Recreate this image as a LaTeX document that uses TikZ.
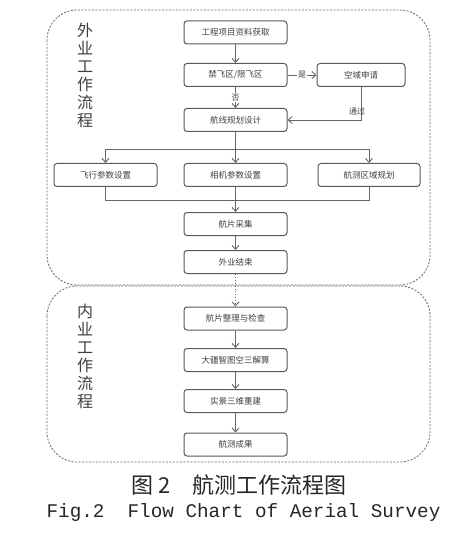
\documentclass[tikz,border=0pt]{standalone}
\usepackage{fontspec}
\newfontfamily\cjk{Noto Sans CJK SC}
\newfontfamily\monof{Liberation Mono}
\usetikzlibrary{arrows.meta}
\begin{document}
\begin{tikzpicture}[x=1pt,y=-1pt,
 box/.style={draw=black!65, line width=1pt, rounded corners=3pt, minimum width=103pt, minimum height=23pt, inner sep=0pt, font=\cjk\fontsize{8.5}{9}\selectfont, text=black!75},
 arr/.style={draw=black!60, line width=0.9pt, -{Straight Barb[length=4pt,width=7pt]}},
 ln/.style={draw=black!60, line width=0.9pt},
 frame/.style={draw=black!60, line width=0.8pt, dash pattern=on 2pt off 1.5pt, rounded corners=30pt},
 side/.style={font=\cjk\fontsize{16}{18}\selectfont, text=black!75, align=center, inner sep=0pt},
 lab/.style={font=\cjk\fontsize{8}{9}\selectfont, fill=white, inner sep=1pt, text=black!75}]

\useasboundingbox (0,0) rectangle (469,537);
\fill[white] (0,0) rectangle (469,537);
\draw[frame] (47,10) rectangle (430,285);
\draw[frame] (47,286) rectangle (430,462);

\node[side] (s1) at (85,75.5) {外\\业\\工\\作\\流\\程};
\node[side] (s2) at (85,356) {内\\业\\工\\作\\流\\程};

\node[box] (n1) at (235.5,32.5) {工程项目资料获取};
\node[box] (n2) at (235.5,75) {禁飞区/限飞区};
\node[box, minimum width=88pt] (n3) at (361,75) {空域申请};
\node[box] (n4) at (235.5,120) {航线规划设计};
\node[box] (n5) at (105.5,175) {飞行参数设置};
\node[box] (n6) at (235.5,175) {相机参数设置};
\node[box, minimum width=102pt] (n7) at (369,175) {航测区域规划};
\node[box] (n8) at (235.5,224) {航片采集};
\node[box] (n9) at (235.5,262) {外业结束};
\node[box] (n10) at (235.5,318.5) {航片整理与检查};
\node[box] (n11) at (235.5,360) {大疆智图空三解算};
\node[box] (n12) at (235.5,401) {实景三维重建};
\node[box] (n13) at (235.5,444.5) {航测成果};

\draw[arr] (n1) -- (n2);
\draw[arr] (n2) -- node[lab]{是} (n3);
\draw[arr] (n2) -- node[lab]{否} (n4);
\draw[arr] (n3.south) |- (n4.east);
\node[lab, fill=none] (t1) at (357,111) {通过};

\coordinate (b) at (235.5,149);
\draw[ln] (n4.south) -- (b);
\draw[ln] (n5.north |- b) -- (n7.north |- b);
\draw[arr] (b) -- (n6.north);
\draw[arr] (n5.north |- b) -- (n5.north);
\draw[arr] (n7.north |- b) -- (n7.north);

\coordinate (m) at (235.5,200);
\draw[ln] (n5.south) |- (m);
\draw[ln] (n7.south) |- (m);
\draw[ln] (n6.south) -- (m);
\draw[arr] (m) -- (n8.north);
\draw[arr] (n8) -- (n9);
\draw[arr, dotted] (n9) -- (n10);
\draw[arr] (n10) -- (n11);
\draw[arr] (n11) -- (n12);
\draw[arr] (n12) -- (n13);

\node[font=\cjk\fontsize{22}{24}\selectfont, text=black!85] (c1) at (239,485) {图 2\hspace{1em}航测工作流程图};
\node[font=\monof\fontsize{19.3}{22}\selectfont, text=black!85] (c2) at (243.5,513) {Fig.2\ \ Flow Chart of Aerial Survey};
\end{tikzpicture}
\end{document}
